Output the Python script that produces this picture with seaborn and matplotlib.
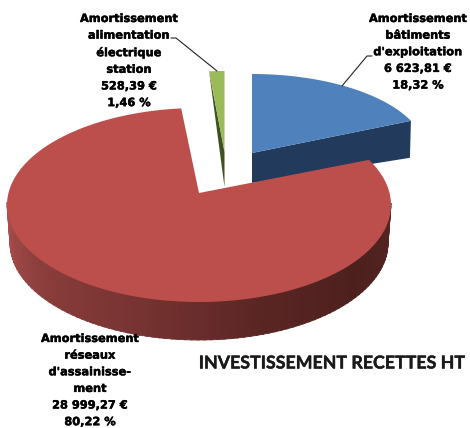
import numpy as np
import seaborn as sns
import matplotlib.pyplot as plt
import matplotlib.patheffects as pe

names = ["Amortissement\nbâtiments\nd'exploitation",
         "Amortissement\nréseaux\nd'assainisse-\nment",
         "Amortissement\nalimentation\nélectrique\nstation"]
values = [6623.81, 28999.27, 528.39]
value_labels = ['6 623,81 €', '28 999,27 €', '528,39 €']
pct_labels = ['18,32 %', '80,22 %', '1,46 %']
title = 'INVESTISSEMENT RECETTES HT'

top_colors = ['#4f81bd', '#bc4f4c', '#9bbb59']
cut_colors = ['#223a5c', '#4a1e1c', '#3d5220']
# apex x, apex y, radius x, radius y, ellipse centre y, ray squash, depth
slices = [(252, 153, 174, 79, 153, 79, 30),
          (199, 193, 192, 97, 205, 84, 38),
          (224.5, 152, 168, 81, 152, 81, 35)]
label_pos = [(418, 14), (90, 334), (129, 14)]
leaders = [([372, 367, 342], [56, 56, 86]), ([171, 176, 217], [38, 38, 71])]


def rim(s, theta):
    # where the ray at theta (clockwise from top) leaves the slice ellipse
    ax0, ay0, rx, ry, cy, k, _ = s
    t = np.radians(theta)
    dx, dy = rx * np.sin(t), -k * np.cos(t)
    o = (ay0 - cy) / ry
    a = (dx / rx) ** 2 + (dy / ry) ** 2
    b = 2 * (dy / ry) * o
    c = o ** 2 - 1
    r = (-b + np.sqrt(b ** 2 - 4 * a * c)) / (2 * a)
    return ax0 + r * dx, ay0 + r * dy


sns.set_theme(style='white')
fig, ax = plt.subplots(figsize=(4.7, 4.28), dpi=100)
ax.set_position([0, 0, 1, 1])
ax.set_xlim(0, 470)
ax.set_ylim(428, 0)
ax.axis('off')

edges = np.concatenate([[0], np.cumsum(values) / np.sum(values) * 360])
side_ramp = sns.blend_palette(['#552522', '#4d201e', '#5a2624', '#763332', '#8a3d3b', '#a84f4c'], 90)

for i in [0, 2, 1]:
    s = slices[i]
    d = s[6]
    theta = np.linspace(edges[i], edges[i + 1], 300)
    x, y = rim(s, theta)
    if i == 0:
        ax.fill([s[0], x[-1], x[-1] - 1, s[0]], [s[1], y[-1], y[-1] + d + 7, s[1] + d], color=cut_colors[i], lw=0)
    if i == 2:
        ax.fill([x[0], s[0], s[0]], [y[0], s[1], s[1] + d], color=cut_colors[i], lw=0)
    if i == 1:
        # outer wall, front half of the ellipse
        steps = np.linspace(90, 270, len(side_ramp) + 1)
        for k, col in enumerate(side_ramp):
            tt = np.radians(np.linspace(steps[k], steps[k + 1] + 0.5, 4))
            xt = s[0] + s[2] * np.sin(tt)
            xb = s[0] + (s[2] - 3) * np.sin(tt)
            yt = s[4] - s[3] * np.cos(tt)
            ax.fill(np.r_[xt, xb[::-1]], np.r_[yt - 2, yt[::-1] + d], color=col, ec=col, lw=0.6)
    ax.fill(np.r_[s[0], x], np.r_[s[1], y], color=top_colors[i], lw=0)

for xs, ys in leaders:
    ax.plot(xs, ys, color='#222222', lw=0.8)

for i, (tx, ty) in enumerate(label_pos):
    txt = names[i] + '\n' + value_labels[i] + '\n' + pct_labels[i]
    ax.text(tx, ty, txt, ha='center', va='top', fontsize=8.2, fontweight='bold',
            family='DejaVu Sans', color='black', linespacing=1.83,
            path_effects=[pe.withStroke(linewidth=0.3, foreground='black')])

ax.text(331, 363, title, ha='center', va='center', fontsize=12.8, fontweight='bold',
        family='Lato', color='#1a1a1a',
        path_effects=[pe.withStroke(linewidth=0.3, foreground='#1a1a1a')])

fig.savefig('out.png', dpi=100)
